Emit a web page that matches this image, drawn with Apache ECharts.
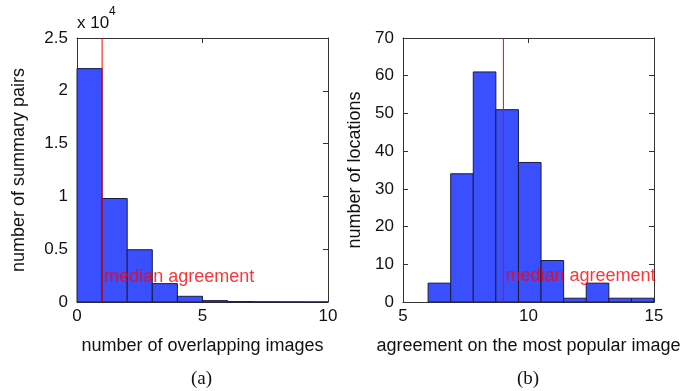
<!DOCTYPE html>
<html>
<head>
<meta charset="utf-8">
<script src="https://cdn.jsdelivr.net/npm/echarts@6/dist/echarts.min.js"></script>
<style>
html,body{margin:0;padding:0;background:#fff;}
#chart{width:698px;height:391px;}
</style>
</head>
<body>
<div id="chart"></div>
<script>
// Left histogram (a)
const leftEdges = [0, 1, 2, 3, 4, 5, 6, 7, 8, 9, 10];
const leftCounts = [22100, 9800, 4950, 1740, 540, 130, 40, 20, 10, 5];
const leftMedian = 1;
const leftXTicks = [0, 5, 10];
const leftYTicks = [0, 0.5, 1, 1.5, 2, 2.5]; // x 10^4

// Right histogram (b)
const rightEdges = [6, 6.9, 7.8, 8.7, 9.6, 10.5, 11.4, 12.3, 13.2, 14.1, 15];
const rightCounts = [5, 34, 61, 51, 37, 11, 1, 5, 1, 1];
const rightMedian = 9;
const rightXTicks = [5, 10, 15];
const rightYTicks = [0, 10, 20, 30, 40, 50, 60, 70];

const medianLabel = 'median agreement';
const leftLabelY = 2370;
const rightLabelY = 6.9;

function bins(edges, counts) {
  return counts.map((c, i) => [edges[i], edges[i + 1], c]);
}

const FONT = '"Liberation Sans", Arial, sans-serif';
const AXC = '#333';
const BAR = '#3a4ffd';
const BARB = '#1c1c3c';

function renderBar(params, api) {
  const p0 = api.coord([api.value(0), api.value(2)]);
  const p1 = api.coord([api.value(1), 0]);
  return {
    type: 'rect',
    shape: { x: p0[0], y: p0[1], width: p1[0] - p0[0], height: p1[1] - p0[1] },
    style: { fill: BAR, stroke: BARB, lineWidth: 1 }
  };
}

function xAxis(grid, min, max, ticks, name, pos) {
  const main = pos === 'bottom';
  return {
    type: 'value', gridIndex: grid, position: pos, min: min, max: max,
    interval: ticks[1] - ticks[0],
    axisLine: { show: true, onZero: false, lineStyle: { color: AXC, width: 1 } },
    axisTick: { show: true, inside: true, length: 5, lineStyle: { color: AXC } },
    axisLabel: { show: main, color: '#111', fontSize: 17, fontFamily: FONT, margin: 6 },
    splitLine: { show: false },
    name: main ? name : '', nameLocation: 'middle', nameGap: 35,
    nameTextStyle: { color: '#111', fontSize: 18, fontFamily: FONT }
  };
}

function yAxis(grid, ticks, scale, name, pos, gap) {
  const main = pos === 'left';
  const step = ticks[1] - ticks[0];
  return {
    type: 'value', gridIndex: grid, position: pos,
    min: ticks[0] * scale, max: ticks[ticks.length - 1] * scale, interval: step * scale,
    axisLine: { show: true, onZero: false, lineStyle: { color: AXC, width: 1 } },
    axisTick: { show: true, inside: true, length: 5, lineStyle: { color: AXC } },
    axisLabel: { show: main, color: '#111', fontSize: 17, fontFamily: FONT, margin: 9,
      formatter: v => String(Math.round(v / scale * 10) / 10) },
    splitLine: { show: false },
    name: main ? name : '', nameLocation: 'middle', nameGap: gap,
    nameTextStyle: { color: '#111', fontSize: 18, fontFamily: FONT }
  };
}

function medianSeries(xi, yi, median, ymax, labelY) {
  return [
    {
      type: 'line', xAxisIndex: xi, yAxisIndex: yi, silent: true,
      data: [[median, 0], [median, ymax]], showSymbol: false, symbol: 'none',
      lineStyle: { color: '#ff0000', width: 1 }, z: 5
    },
    {
      type: 'scatter', xAxisIndex: xi, yAxisIndex: yi, silent: true,
      data: [[median, labelY]], symbolSize: 0,
      label: { show: true, position: 'right', distance: 2, formatter: medianLabel,
        color: '#ff0000', fontSize: 18, fontFamily: FONT },
      z: 6
    }
  ];
}

const chart = echarts.init(document.getElementById('chart'), null, { renderer: 'canvas' });
chart.setOption({
  backgroundColor: '#fff',
  animation: false,
  grid: [
    { left: 77, top: 38, width: 251, height: 264 },
    { left: 403, top: 38, width: 251, height: 264 }
  ],
  xAxis: [
    xAxis(0, 0, 10, leftXTicks, 'number of overlapping images', 'bottom'),
    xAxis(0, 0, 10, leftXTicks, '', 'top'),
    xAxis(1, 5, 15, rightXTicks, 'agreement on the most popular image', 'bottom'),
    xAxis(1, 5, 15, rightXTicks, '', 'top')
  ],
  yAxis: [
    yAxis(0, leftYTicks, 10000, 'number of summary pairs', 'left', 49),
    yAxis(0, leftYTicks, 10000, '', 'right', 0),
    yAxis(1, rightYTicks, 1, 'number of locations', 'left', 39),
    yAxis(1, rightYTicks, 1, '', 'right', 0)
  ],
  graphic: [
    { type: 'text', left: 77, top: 15, style: { text: 'x 10', fill: '#111', fontSize: 17, fontFamily: FONT } },
    { type: 'text', left: 109, top: 6, style: { text: '4', fill: '#111', fontSize: 12, fontFamily: FONT } },
    { type: 'text', left: 191, top: 370, style: { text: '(a)', fill: '#111', fontSize: 19, fontFamily: '"Liberation Serif", "Times New Roman", serif' } },
    { type: 'text', left: 517, top: 370, style: { text: '(b)', fill: '#111', fontSize: 19, fontFamily: '"Liberation Serif", "Times New Roman", serif' } }
  ],
  series: [
    { type: 'custom', xAxisIndex: 0, yAxisIndex: 0, renderItem: renderBar, data: bins(leftEdges, leftCounts), z: 2 },
    { type: 'custom', xAxisIndex: 2, yAxisIndex: 2, renderItem: renderBar, data: bins(rightEdges, rightCounts), z: 2 },
    ...medianSeries(0, 0, leftMedian, leftYTicks[leftYTicks.length - 1] * 10000, leftLabelY),
    ...medianSeries(2, 2, rightMedian, rightYTicks[rightYTicks.length - 1], rightLabelY)
  ]
});
</script>
</body>
</html>
